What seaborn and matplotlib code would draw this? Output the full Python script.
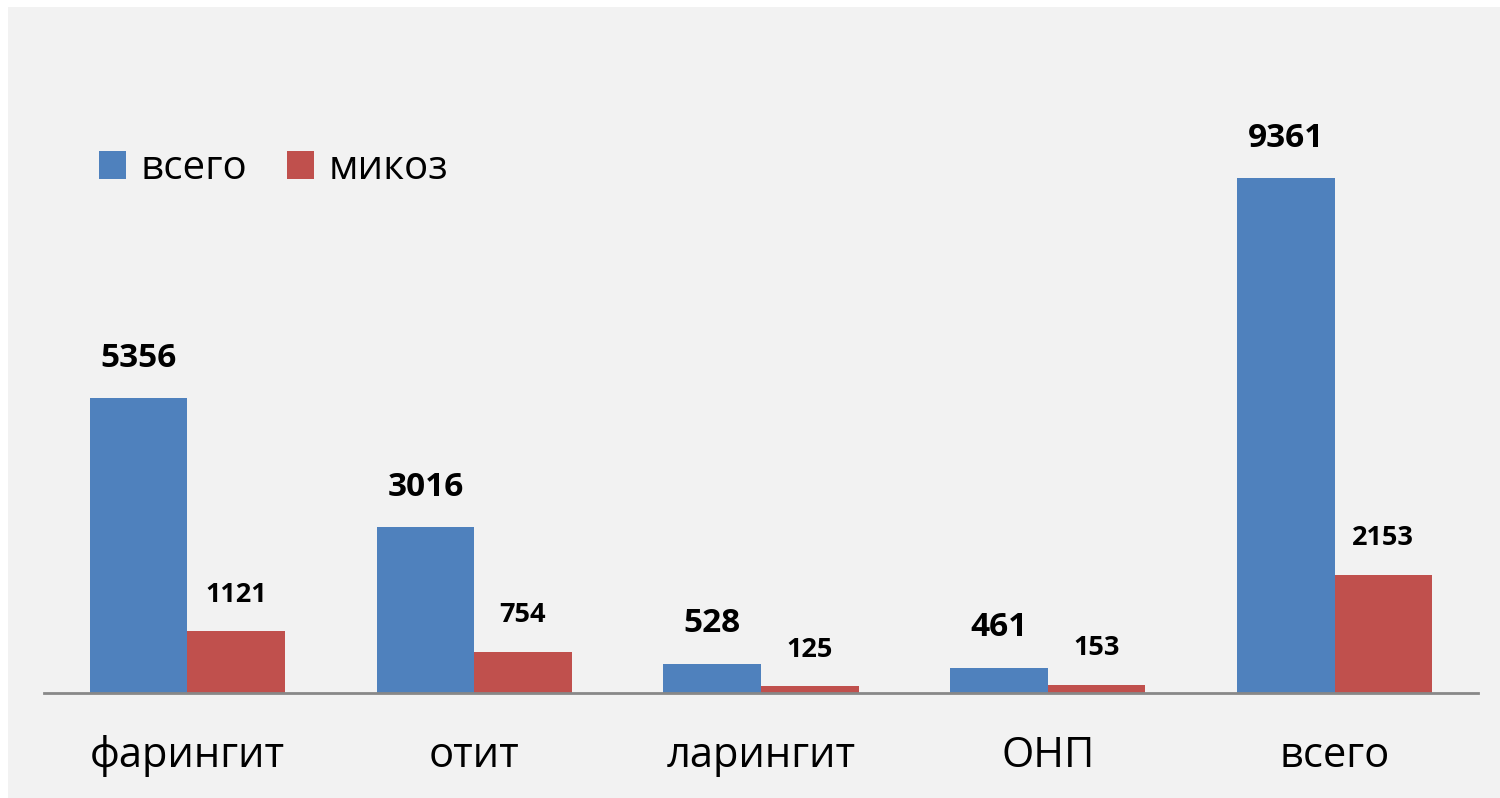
import numpy as np
import pandas as pd
import matplotlib
matplotlib.use('Agg')
import matplotlib.pyplot as plt
from matplotlib.patches import Rectangle
import seaborn as sns

# chart data
categories = ['фарингит', 'отит', 'ларингит', 'ОНП', 'всего']
series_names = ['всего', 'микоз']
total_vals = [5356, 3016, 528, 461, 9361]
mycosis_vals = [1121, 754, 125, 153, 2153]
colors = ['#4F81BD', '#C0504D']

df = pd.DataFrame({
    'category': categories * 2,
    'series': [series_names[0]] * 5 + [series_names[1]] * 5,
    'value': total_vals + mycosis_vals,
})

sns.set_theme(style='white')
plt.rcParams['font.family'] = ['Open Sans', 'DejaVu Sans']

fig = plt.figure(figsize=(15, 7.98), dpi=100)
fig.patch.set_facecolor('white')
# grey chart area with thin white margin at top/left
fig.patches.append(Rectangle((8 / 1500, 0), 1 - 8 / 1500, 1 - 7 / 798,
                             transform=fig.transFigure, facecolor='#F2F2F2',
                             edgecolor='none', zorder=-10))

ax = fig.add_axes([44 / 1500, 105 / 798, 1434 / 1500, 550 / 798])
ax.set_facecolor('none')

sns.barplot(data=df, x='category', y='value', hue='series', palette=colors,
            width=0.68, gap=0, saturation=1, ax=ax, legend=True,
            linewidth=0, edgecolor='none')

ax.set_ylim(0, 10000)
ax.set_xlim(-0.5, len(categories) - 0.5)

# value labels
for cont, fs in zip(ax.containers, [24, 19.5]):
    ax.bar_label(cont, labels=[str(int(v)) for v in cont.datavalues],
                 padding=17, fontsize=fs, fontweight='bold', color='black')

for s in ['top', 'left', 'right']:
    ax.spines[s].set_visible(False)
ax.spines['bottom'].set_color('#888888')
ax.spines['bottom'].set_linewidth(2)
ax.set_yticks([])
ax.set_xlabel('')
ax.set_ylabel('')
ax.tick_params(axis='x', length=0, pad=30, labelsize=30, colors='black')

handles, labels = ax.get_legend_handles_labels()
ax.legend(handles, labels, ncol=2, frameon=False, fontsize=29,
          labelcolor='black',
          loc='center left', bbox_to_anchor=(99 / 1500, (798 - 169) / 798),
          bbox_transform=fig.transFigure,
          handlelength=0.67, handleheight=0.67, handletextpad=0.35,
          columnspacing=1.0, borderpad=0, borderaxespad=0)

fig.savefig('out.png', dpi=100, facecolor=fig.get_facecolor())
